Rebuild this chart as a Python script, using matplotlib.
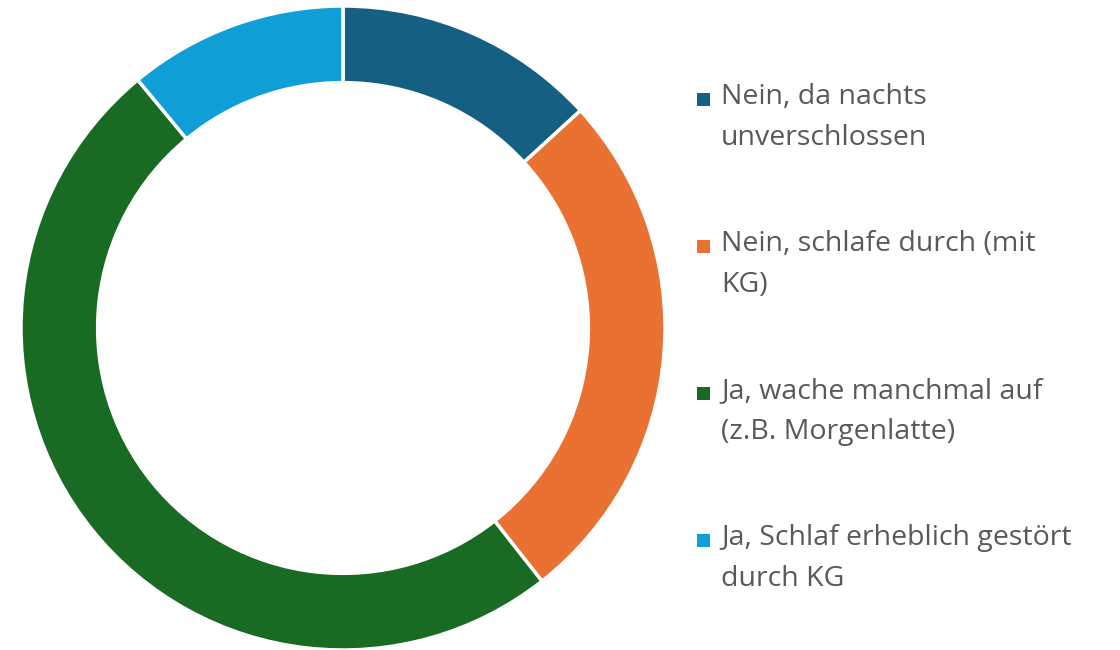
import matplotlib.pyplot as plt
from matplotlib.patches import Rectangle

labels = [
    'Nein, da nachts\nunverschlossen',
    'Nein, schlafe durch (mit\nKG)',
    'Ja, wache manchmal auf\n(z.B. Morgenlatte)',
    'Ja, Schlaf erheblich gestört\ndurch KG',
]
values = [13.2, 26.2, 49.6, 11.0]
colors = ['#156082', '#E97132', '#196B24', '#0F9ED5']

W, H = 1120, 650
fig = plt.figure(figsize=(W / 100, H / 100), dpi=100)

# donut axes: centre ~(343, 328) px, radius ~322 px
cx, cy, r = 343, 328, 322
ax = fig.add_axes([(cx - r) / W, (H - cy - r) / H, 2 * r / W, 2 * r / H])
ax.pie(values, colors=colors, startangle=90, counterclock=False,
       radius=1.0, wedgeprops=dict(width=0.238, edgecolor='white', linewidth=2.5))
ax.set_xlim(-1, 1)
ax.set_ylim(-1, 1)
ax.set_aspect('equal')
ax.axis('off')

# legend, drawn by hand to match the layout
y0, step = 100, 147
for i, (lab, col) in enumerate(zip(labels, colors)):
    y = y0 + i * step
    fig.patches.append(Rectangle((697 / W, 1 - (y + 6) / H), 13 / W, 13 / H,
                                 transform=fig.transFigure, facecolor=col,
                                 edgecolor='none'))
    fig.text(721 / W, 1 - (y - 17) / H, lab, fontsize=20.5, color='#595959',
             va='top', ha='left', linespacing=1.6, family='Open Sans')

fig.savefig('out.png', dpi=100)
